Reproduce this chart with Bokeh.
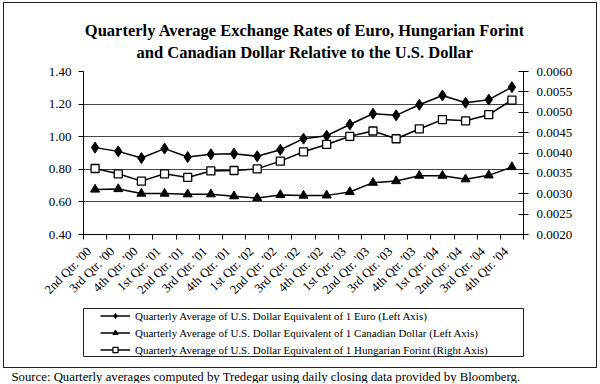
import numpy as np
from bokeh.plotting import figure
from bokeh.layouts import column
from bokeh.models import (Range1d, LinearAxis, FixedTicker, Label, Grid,
                          Legend, LegendItem, NumeralTickFormatter)
from bokeh.embed import file_html
from bokeh.resources import INLINE

quarters = ["2nd Qtr. '00", "3rd Qtr. '00", "4th Qtr. '00",
            "1st Qtr. '01", "2nd Qtr. '01", "3rd Qtr. '01", "4th Qtr. '01",
            "1st Qtr. '02", "2nd Qtr. '02", "3rd Qtr. '02", "4th Qtr. '02",
            "1st Qtr. '03", "2nd Qtr. '03", "3rd Qtr. '03", "4th Qtr. '03",
            "1st Qtr. '04", "2nd Qtr. '04", "3rd Qtr. '04", "4th Qtr. '04"]
euro = [0.933, 0.910, 0.869, 0.927, 0.875, 0.892, 0.896, 0.880, 0.920, 0.988,
        1.006, 1.075, 1.141, 1.131, 1.196, 1.253, 1.208, 1.227, 1.304]
cad = [0.676, 0.679, 0.651, 0.651, 0.647, 0.647, 0.635, 0.624, 0.643, 0.639,
       0.640, 0.661, 0.718, 0.728, 0.761, 0.761, 0.739, 0.763, 0.814]
huf = [0.00362, 0.00349, 0.00331, 0.00349, 0.00340, 0.00356, 0.00357, 0.00361,
       0.00380, 0.00403, 0.00421, 0.00441, 0.00454, 0.00435, 0.00459, 0.00482,
       0.00479, 0.00494, 0.00530]
left_ticks = [0.40, 0.60, 0.80, 1.00, 1.20, 1.40]
right_ticks = [0.0020, 0.0025, 0.0030, 0.0035, 0.0040, 0.0045, 0.0050, 0.0055, 0.0060]

title1 = "Quarterly Average Exchange Rates of Euro, Hungarian Forint"
title2 = "and Canadian Dollar Relative to the U.S. Dollar"
legend_labels = ["Quarterly Average of U.S. Dollar Equivalent of 1 Euro (Left Axis)",
                 "Quarterly Average of U.S. Dollar Equivalent of 1 Canadian Dollar (Left Axis)",
                 "Quarterly Average of U.S. Dollar Equivalent of 1 Hungarian Forint (Right Axis)"]
source = "Source:  Quarterly averages computed by Tredegar using daily closing data provided by Bloomberg."

FONT = "Liberation Serif"
W = 592
H_TITLE, H_MAIN, H_LEG, H_SRC = 58, 243, 63, 15


def blank(width, height):
    f = figure(width=width, height=height, output_backend="svg", toolbar_location=None,
               x_range=Range1d(0, width), y_range=Range1d(height, 0), min_border=0,
               x_axis_type=None, y_axis_type=None)
    f.title.visible = False
    f.outline_line_color = None
    f.xgrid.visible = False
    f.ygrid.visible = False
    return f


# ---- title strip
pt = blank(W, H_TITLE)
for txt, yy in [(title1, 27), (title2, 48.5)]:
    pt.add_layout(Label(x=298, y=yy, text=txt, text_align="center", text_baseline="middle",
                        text_font=FONT, text_font_style="bold", text_font_size="16.5px",
                        text_color="black"))

# ---- main chart
n = len(quarters)
xs = [i + 0.5 for i in range(n)]
label_pos = [i + 0.25 for i in range(n)]   # rotated labels end just left of the centre

p = figure(width=W, height=H_MAIN, output_backend="svg", toolbar_location=None,
           x_range=Range1d(0, n), y_range=Range1d(left_ticks[0], left_ticks[-1]),
           min_border_left=63, min_border_right=73, min_border_top=10,
           min_border_bottom=70, x_axis_type=None, y_axis_type=None)
p.title.visible = False
p.extra_y_ranges = {"huf": Range1d(right_ticks[0], right_ticks[-1])}
p.outline_line_color = None

xaxis = LinearAxis(ticker=FixedTicker(ticks=label_pos, minor_ticks=list(range(n + 1))))
xaxis.major_label_overrides = {x: q for x, q in zip(label_pos, quarters)}
xaxis.major_label_orientation = np.pi / 4
xaxis.major_tick_in = 0
xaxis.major_tick_out = 0
xaxis.minor_tick_in = 0
xaxis.minor_tick_out = 5
xaxis.minor_tick_line_color = "black"
xaxis.axis_line_color = "black"
xaxis.major_label_standoff = 10
xaxis.major_label_text_font = FONT
xaxis.major_label_text_font_size = "12.75px"
xaxis.major_label_text_color = "black"
p.add_layout(xaxis, "below")

yaxis = LinearAxis(ticker=FixedTicker(ticks=left_ticks),
                   formatter=NumeralTickFormatter(format="0.00"))
yaxis.major_tick_in = 0
yaxis.major_tick_out = 5
yaxis.minor_tick_line_color = None
yaxis.axis_line_color = "black"
yaxis.major_tick_line_color = "black"
yaxis.major_label_text_font = FONT
yaxis.major_label_text_font_size = "13px"
yaxis.major_label_text_color = "black"
yaxis.major_label_standoff = 7
p.add_layout(yaxis, "left")

raxis = LinearAxis(y_range_name="huf", ticker=FixedTicker(ticks=right_ticks),
                   formatter=NumeralTickFormatter(format="0.0000"))
raxis.major_tick_in = 5
raxis.major_tick_out = 5
raxis.minor_tick_line_color = None
raxis.axis_line_color = "black"
raxis.major_tick_line_color = "black"
raxis.major_label_text_font = FONT
raxis.major_label_text_font_size = "13px"
raxis.major_label_text_color = "black"
raxis.major_label_standoff = 8
p.add_layout(raxis, "right")

p.add_layout(Grid(dimension=1, ticker=yaxis.ticker, grid_line_color="#444444",
                  grid_line_width=1))

LW = 1.5
STYLES = [dict(marker="diamond", size=11, fill_color="black", line_color="black", line_width=1),
          dict(marker="triangle", size=9, fill_color="black", line_color="black", line_width=1),
          dict(marker="square", size=8, fill_color="white", line_color="black", line_width=1.3)]

p.line(xs, euro, line_color="black", line_width=LW)
p.scatter(xs, euro, **STYLES[0])
p.line(xs, cad, line_color="black", line_width=LW)
p.scatter(xs, cad, **STYLES[1])
p.line(xs, huf, line_color="black", line_width=LW, y_range_name="huf")
p.scatter(xs, huf, y_range_name="huf", **STYLES[2])

# ---- legend strip (its frame is the legend box; series drawn out of view only
#      so that the legend can show their swatches)
pl = figure(width=W, height=H_LEG, output_backend="svg", toolbar_location=None,
            x_range=Range1d(0, 1), y_range=Range1d(100, 101),
            min_border_left=79, min_border_right=73, min_border_top=4, min_border_bottom=11,
            x_axis_type=None, y_axis_type=None)
pl.title.visible = False
pl.xgrid.visible = False
pl.ygrid.visible = False
pl.outline_line_color = "#222222"
pl.outline_line_width = 1
items = []
for lab, st, ser in zip(legend_labels, STYLES, [euro, cad, huf]):
    lr = pl.line(xs, ser, line_color="black", line_width=LW)
    sr = pl.scatter(xs, ser, **st)
    items.append(LegendItem(label=lab, renderers=[lr, sr]))
legend = Legend(items=items, location=(17, 0))
legend.border_line_color = None
legend.background_fill_alpha = 0
legend.padding = 0
legend.margin = 0
legend.spacing = 4
legend.glyph_height = 13
legend.glyph_width = 30
legend.label_height = 13
legend.label_standoff = 5
legend.label_text_font = FONT
legend.label_text_font_size = "11px"
legend.label_text_color = "black"
pl.add_layout(legend)

# ---- source line (outside the outer frame)
ps = blank(597, H_SRC)
ps.add_layout(Label(x=11, y=8, text=source, text_align="left", text_baseline="middle",
                    text_font=FONT, text_font_size="12.75px", text_color="black"))

framed = column(pt, p, pl, spacing=0, margin=(2, 0, 0, 3),
                styles={"border": "1px solid #222222"})
layout = column(framed, ps, spacing=0, margin=0)

open("out.html", "w").write(file_html(layout, INLINE))
